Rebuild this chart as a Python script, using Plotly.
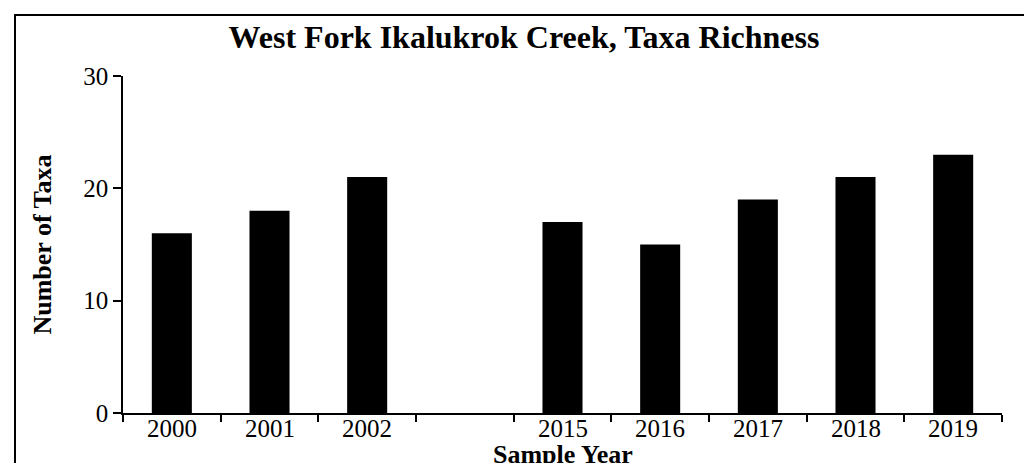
import plotly.graph_objects as go

categories = ["2000", "2001", "2002", " ", "2015", "2016", "2017", "2018", "2019"]
taxa = [16, 18, 21, None, 17, 15, 19, 21, 23]
y_ticks = [0, 10, 20, 30]

W, H = 1032, 463
ML, MR, MT, MB = 115, 38, 68, 58
pw, ph = W - ML - MR, H - MT - MB

def px_x(p):
    return (p - ML) / pw

def px_y(p):
    return (H - MB - p) / ph

font_family = "Liberation Serif, Times New Roman, serif"

fig = go.Figure(go.Bar(
    x=categories, y=taxa,
    marker=dict(color="black", line=dict(width=0)),
))

# category tick labels placed just under the axis (category index on the x scale)
tick_annotations = [
    dict(text=c, x=i, xref="x", yref="paper", y=px_y(405),
         xanchor="center", yanchor="top", showarrow=False,
         font=dict(size=25, family=font_family, color="black"))
    for i, c in enumerate(categories) if c.strip()
]

fig.update_layout(
    width=W, height=H,
    margin=dict(l=ML, r=MR, t=MT, b=MB, pad=0),
    paper_bgcolor="white", plot_bgcolor="white",
    bargap=0.59,
    showlegend=False,
    font=dict(family=font_family, color="black", size=25),
    title=dict(
        text="<b>West Fork Ikalukrok Creek, Taxa Richness</b>",
        x=0.5, xref="container", xanchor="center",
        y=1 - 29 / H, yref="container", yanchor="middle",
        font=dict(size=32, family=font_family, color="black"),
    ),
    xaxis=dict(
        type="category",
        categoryorder="array", categoryarray=categories,
        range=[-0.5, len(categories) - 0.5],
        showline=True, linecolor="black", linewidth=1.5,
        ticks="outside", tickson="boundaries", ticklen=7, tickwidth=1.5, tickcolor="black",
        showgrid=False, zeroline=False,
        showticklabels=False,
    ),
    yaxis=dict(
        range=[0, 30], tickvals=y_ticks,
        showline=True, linecolor="black", linewidth=1.5,
        ticks="outside", ticklen=8, tickwidth=1.5, tickcolor="black",
        showgrid=False, zeroline=False,
        tickfont=dict(size=25),
        title=dict(text="<b>Number of Taxa</b>", font=dict(size=26), standoff=24),
    ),
    annotations=tick_annotations + [dict(
        text="<b>Sample Year</b>", xref="paper", yref="paper",
        x=0.5, y=px_y(446), xanchor="center", yanchor="middle",
        showarrow=False, font=dict(size=26, family=font_family, color="black"),
    )],
    shapes=[dict(
        type="rect", xref="paper", yref="paper",
        x0=px_x(7), x1=px_x(W + 20), y0=px_y(H + 20), y1=px_y(7),
        line=dict(color="black", width=2), fillcolor="rgba(0,0,0,0)",
        layer="above",
    )],
)

fig.write_html("out.html")
